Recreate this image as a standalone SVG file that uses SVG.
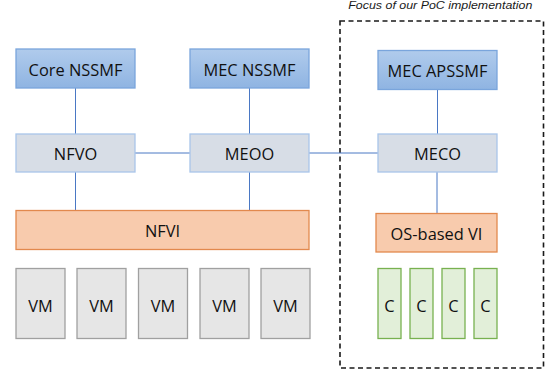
<svg xmlns="http://www.w3.org/2000/svg" width="553" height="373" viewBox="0 0 553 373">
<defs>
<linearGradient id="gb" x1="0" y1="0" x2="0" y2="1">
<stop offset="0" stop-color="#b0cbec"/>
<stop offset="1" stop-color="#8fb4e2"/>
</linearGradient>
<style>
.t{font-family:"Open Sans","Liberation Sans",sans-serif;font-size:16.4px;fill:#111;text-anchor:middle}
.blue{fill:url(#gb);stroke:#7aa5dc;stroke-width:1.3}
.grey{fill:#d7dde6;stroke:#a9c5ea;stroke-width:1.3}
.orange{fill:#f8cbad;stroke:#e2894e;stroke-width:1.3}
.vm{fill:#e6e6e6;stroke:#a0a0a0;stroke-width:1.3}
.c{fill:#e2efd9;stroke:#78b150;stroke-width:1.3}
.ln{stroke:#4a78c4;stroke-width:1;fill:none}
</style>
</defs>
<rect width="553" height="373" fill="#fff"/>
<g id="focus">
<rect x="340" y="21" width="203.5" height="347" fill="none" stroke="#1a1a1a" stroke-width="1.6" stroke-dasharray="5,3.5"/>
<text x="348.3" y="9" font-family="Liberation Sans,Arial,sans-serif" font-size="11" font-style="italic" fill="#1a1a1a" textLength="184" lengthAdjust="spacingAndGlyphs">Focus of our PoC implementation</text>
</g>
<g id="connectors">
<line class="ln" x1="75.5" y1="88" x2="75.5" y2="134"/>
<line class="ln" x1="249.5" y1="88" x2="249.5" y2="134"/>
<line class="ln" x1="437.5" y1="89" x2="437.5" y2="134"/>
<line class="ln" x1="135" y1="153" x2="190" y2="153"/>
<line class="ln" x1="309" y1="153" x2="378" y2="153"/>
<line class="ln" x1="75.5" y1="172" x2="75.5" y2="210"/>
<line class="ln" x1="249.5" y1="172" x2="249.5" y2="210"/>
<line class="ln" x1="437" y1="172" x2="437" y2="213" stroke="#7fa8e0"/>
</g>
<g id="core-nssmf"><rect class="blue" x="16" y="49" width="119" height="39"/><text class="t" x="75.5" y="75.5">Core NSSMF</text></g>
<g id="mec-nssmf"><rect class="blue" x="190" y="49" width="119" height="39"/><text class="t" x="249.5" y="75.5">MEC NSSMF</text></g>
<g id="mec-apssmf"><rect class="blue" x="378" y="50.5" width="119" height="39"/><text class="t" x="437.5" y="77">MEC APSSMF</text></g>
<g id="nfvo"><rect class="grey" x="16" y="134" width="119" height="38"/><text class="t" x="75.5" y="160">NFVO</text></g>
<g id="meoo"><rect class="grey" x="190" y="134" width="119" height="38"/><text class="t" x="249.5" y="160">MEOO</text></g>
<g id="meco"><rect class="grey" x="378" y="134" width="119" height="38"/><text class="t" x="437.5" y="160">MECO</text></g>
<g id="nfvi"><rect class="orange" x="16" y="210.5" width="293" height="39"/><text class="t" x="162.5" y="236.7">NFVI</text></g>
<g id="os-based-vi"><rect class="orange" x="376" y="213.5" width="121" height="38.5"/><text class="t" x="436.5" y="240">OS-based VI</text></g>
<g id="vm1"><rect class="vm" x="16" y="268.5" width="49" height="70"/><text class="t" x="40.5" y="311.5">VM</text></g>
<g id="vm2"><rect class="vm" x="77" y="268.5" width="49" height="70"/><text class="t" x="101.5" y="311.5">VM</text></g>
<g id="vm3"><rect class="vm" x="138.5" y="268.5" width="49" height="70"/><text class="t" x="163" y="311.5">VM</text></g>
<g id="vm4"><rect class="vm" x="200" y="268.5" width="49" height="70"/><text class="t" x="224.5" y="311.5">VM</text></g>
<g id="vm5"><rect class="vm" x="261" y="268.5" width="49" height="70"/><text class="t" x="285.5" y="311.5">VM</text></g>
<g id="c1"><rect class="c" x="378" y="268.5" width="23" height="70"/><text class="t" x="389.5" y="311.5">C</text></g>
<g id="c2"><rect class="c" x="410" y="268.5" width="23" height="70"/><text class="t" x="421.5" y="311.5">C</text></g>
<g id="c3"><rect class="c" x="442" y="268.5" width="23" height="70"/><text class="t" x="453.5" y="311.5">C</text></g>
<g id="c4"><rect class="c" x="474" y="268.5" width="23" height="70"/><text class="t" x="485.5" y="311.5">C</text></g>
</svg>
